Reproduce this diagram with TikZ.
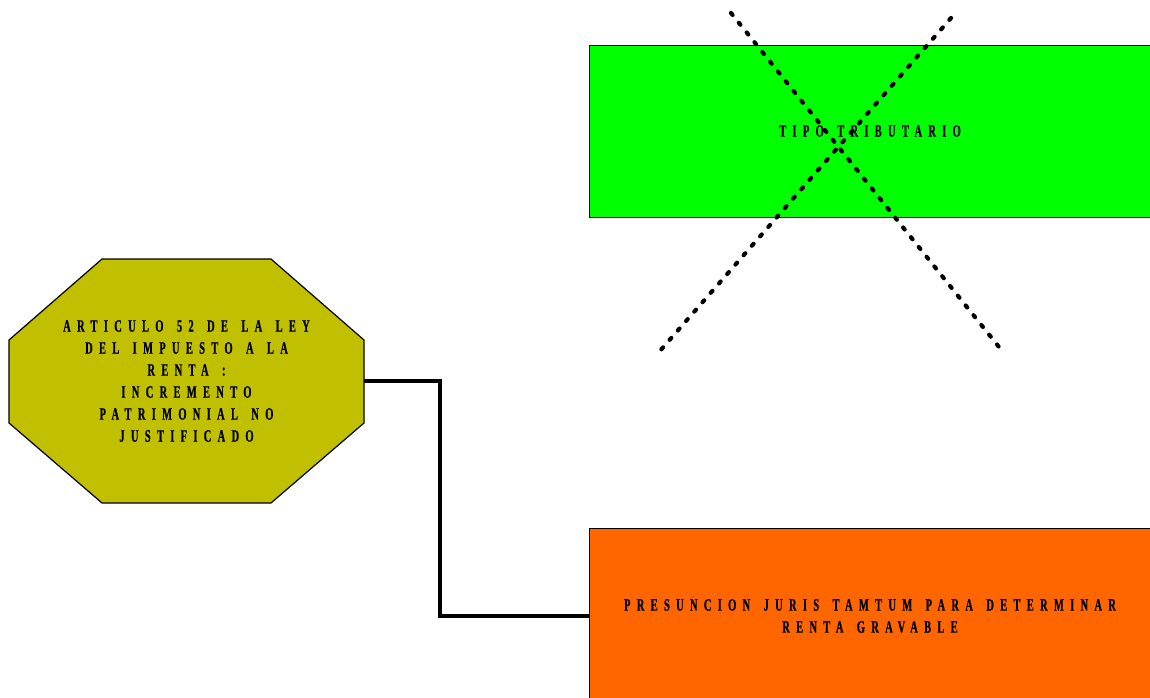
\documentclass[tikz,border=0pt]{standalone}
\usepackage{fontspec}
\usepackage{tikz}
\newfontfamily\lblfont{Liberation Serif}[FakeStretch=0.6,LetterSpace=36,WordSpace=1.5,FakeBold=0.6]
\definecolor{olivebox}{HTML}{C0BF00}
\definecolor{greenbox}{HTML}{00FF00}
\definecolor{orangebox}{HTML}{FF6600}
\begin{document}
\begin{tikzpicture}[x=1pt, y=-1pt, every node/.style={align=center, font=\lblfont\bfseries\fontsize{17.5}{22}\selectfont}]
  \useasboundingbox (0,0) rectangle (1150,698);
  % octagon corners
  \foreach \n/\x/\y in {1/102/259, 2/271/259, 3/364/340, 4/364/423, 5/271/503, 6/102/503, 7/9/423, 8/9/340} \coordinate (o\n) at (\x,\y);
  \draw[fill=olivebox, line width=1.2] (o1) -- (o2) -- (o3) -- (o4) -- (o5) -- (o6) -- (o7) -- (o8) -- cycle;
  \node[minimum width=355, minimum height=244, inner sep=0] (art) at (186.5,381) {ARTICULO 52 DE LA LEY\\DEL IMPUESTO A LA\\RENTA :\\INCREMENTO\\PATRIMONIAL NO\\JUSTIFICADO};
  % boxes
  \node[draw, fill=greenbox, minimum width=562, minimum height=172, inner sep=0] (tipo) at (870,131) {TIPO TRIBUTARIO};
  \node[draw, fill=orangebox, minimum width=562, minimum height=176, inner sep=0] (renta) at (870,616) {PRESUNCION JURIS TAMTUM PARA DETERMINAR\\RENTA GRAVABLE};
  % connector
  \coordinate (k) at (440,381);
  \draw[line width=3.5] (art.east) -- (k) |- (renta.west);
  % crossed out
  \foreach \n/\x/\y in {1/731/13, 2/999/347, 3/951/18, 4/659/352} \coordinate (x\n) at (\x,\y);
  \foreach \a/\b in {x1/x2, x3/x4} \draw[line width=4.2, line cap=round, dash pattern=on 2.5pt off 10pt] (\a) -- (\b);
\end{tikzpicture}
\end{document}
